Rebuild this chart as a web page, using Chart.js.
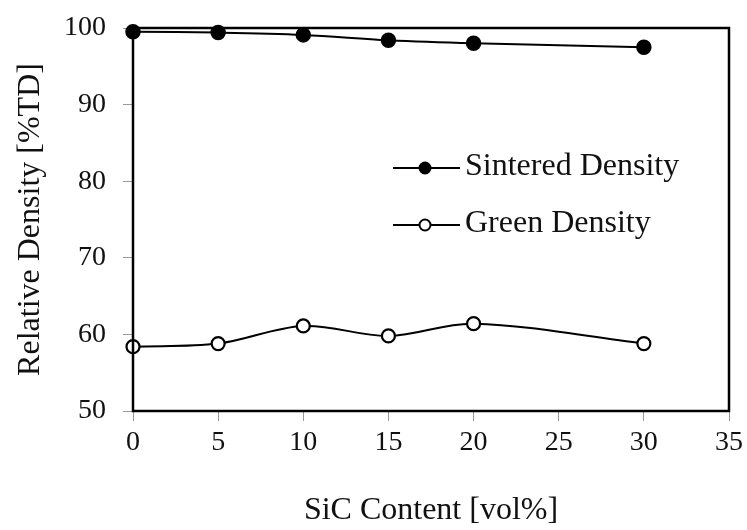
<!DOCTYPE html>
<html><head><meta charset="utf-8">
<script src="https://cdn.jsdelivr.net/npm/chart.js@4.4.1/dist/chart.umd.min.js"></script>
<style>html,body{margin:0;padding:0;background:#fff;}#wrap{width:747px;height:530px;}</style>
</head><body><div id="wrap"><canvas id="c" width="747" height="530"></canvas></div>
<script>
const sicContent = [0, 5, 10, 15, 20, 30];
const sinteredDensity = [99.5, 99.4, 99.1, 98.4, 98.0, 97.5];
const greenDensity = [58.4, 58.8, 61.1, 59.8, 61.4, 58.8];
const seriesNames = ['Sintered Density', 'Green Density'];
const xTitle = 'SiC Content [vol%]';
const yTitle = 'Relative Density [%TD]';

const FONT = "'Liberation Serif', 'Times New Roman', serif";

const frame = {
  id: 'frame',
  afterDatasetsDraw(chart) {
    const {ctx, chartArea: a} = chart;
    ctx.save();
    ctx.strokeStyle = '#000';
    ctx.lineWidth = 2.5;
    ctx.strokeRect(a.left, a.top, a.right - a.left, a.bottom - a.top);
    ctx.restore();
  },
  afterDraw(chart) {
    const {ctx} = chart;
    ctx.save();
    const items = [{y: 168, fill: '#000'}, {y: 225, fill: '#fff'}];
    chart.data.datasets.forEach((ds, i) => {
      const it = items[i];
      ctx.strokeStyle = '#000';
      ctx.lineWidth = 2;
      ctx.beginPath(); ctx.moveTo(393, it.y); ctx.lineTo(460, it.y); ctx.stroke();
      ctx.beginPath(); ctx.arc(425, it.y, 5.5, 0, Math.PI * 2);
      ctx.fillStyle = it.fill; ctx.fill(); ctx.stroke();
      ctx.fillStyle = '#111';
      ctx.font = "32px " + FONT;
      ctx.textBaseline = 'middle';
      ctx.textAlign = 'left';
      ctx.fillText(ds.label, 465, it.y - 1);
    });
    ctx.restore();
  }
};

new Chart(document.getElementById('c'), {
  type: 'line',
  data: {
    datasets: [
      {label: seriesNames[0], data: sicContent.map((x, i) => ({x, y: sinteredDensity[i]})),
       borderColor: '#000', backgroundColor: '#000', pointBackgroundColor: '#000', pointBorderColor: '#000',
       borderWidth: 2, pointRadius: 7, pointBorderWidth: 1.5, tension: 0.35, clip: false},
      {label: seriesNames[1], data: sicContent.map((x, i) => ({x, y: greenDensity[i]})),
       borderColor: '#000', backgroundColor: '#fff', pointBackgroundColor: '#fff', pointBorderColor: '#000',
       borderWidth: 2, pointRadius: 6.5, pointBorderWidth: 2.2, tension: 0.35, clip: false}
    ]
  },
  options: {
    responsive: false, animation: false, devicePixelRatio: 1,
    layout: {padding: {top: 28, right: 18, left: 0, bottom: 0}},
    plugins: {legend: {display: false}, tooltip: {enabled: false}},
    scales: {
      x: {
        type: 'linear', min: 0, max: 35,
        afterFit(s) { s.height = 119; s.paddingLeft = 0; s.paddingRight = 0; },
        ticks: {stepSize: 5, color: '#111', font: {family: FONT, size: 28}, padding: 5, maxRotation: 0},
        grid: {drawOnChartArea: false, drawTicks: true, tickLength: 10, tickColor: '#999', tickWidth: 1},
        border: {display: false},
        title: {display: true, text: xTitle, color: '#111', font: {family: FONT, size: 32}, padding: {top: 0, bottom: 0}}
      },
      y: {
        min: 50, max: 100,
        afterFit(s) { s.width = 133; s.paddingTop = 0; s.paddingBottom = 0; },
        ticks: {stepSize: 10, color: '#111', font: {family: FONT, size: 28}, padding: 17},
        grid: {drawOnChartArea: false, drawTicks: true, tickLength: 10, tickColor: '#999', tickWidth: 1},
        border: {display: false},
        title: {display: true, text: yTitle, color: '#111', font: {family: FONT, size: 32}, padding: {top: 11, bottom: 0}}
      }
    }
  },
  plugins: [frame]
});
</script></body></html>
